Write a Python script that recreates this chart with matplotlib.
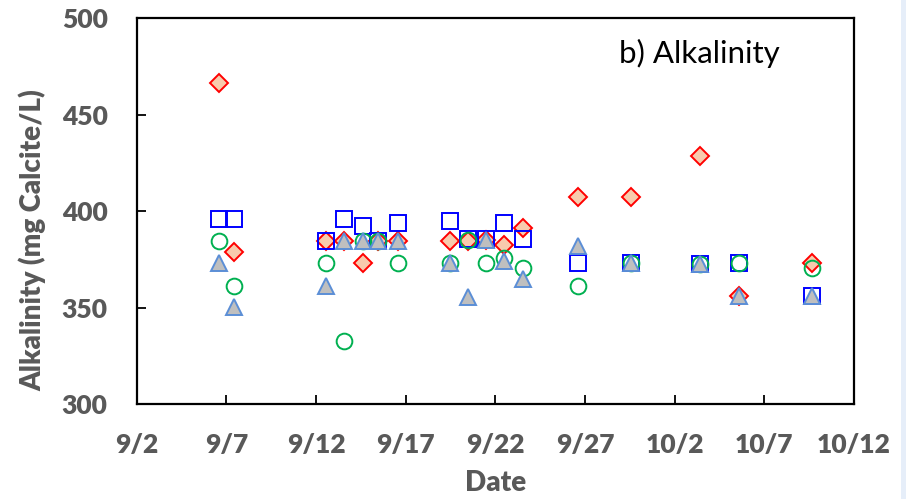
import matplotlib
matplotlib.use("Agg")
import matplotlib.pyplot as plt
import pandas as pd
from matplotlib.patches import Rectangle

plt.rcParams['font.family'] = ['Lato', 'DejaVu Sans']

# sampling times
sample_times = ["2020-09-06 14:00", "2020-09-07 10:30", "2020-09-12 14:00",
                "2020-09-13 14:00", "2020-09-14 14:30", "2020-09-15 10:30",
                "2020-09-16 14:00", "2020-09-19 11:00", "2020-09-20 12:00",
                "2020-09-21 12:00", "2020-09-22 12:00", "2020-09-23 13:00",
                "2020-09-26 14:30", "2020-09-29 13:00", "2020-10-03 09:30",
                "2020-10-05 13:40", "2020-10-09 16:00"]

# alkalinity, mg calcite / L
diamond_vals = [466.2, 378.9, 384.5, 384.5, 373.2, 384.5, 384.5, 384.5, 384.5,
                385.0, 382.5, 391.4, 407.5, 407.5, 428.5, 356.2, 373.0]
square_vals = [396.1, 396.1, 384.5, 396.1, 392.5, 384.5, 393.7, 394.9, 385.4,
               385.4, 393.7, 385.6, 373.0, 373.0, 372.6, 373.2, 356.2]
circle_vals = [384.5, 361.4, 373.2, 332.8, 384.5, 384.5, 373.2, 373.3, 385.0,
               373.2, 375.6, 370.4, 361.4, 373.0, 372.6, 373.2, 370.7]
triangle_vals = [373.0, 350.2, 361.4, 384.5, 384.5, 384.5, 384.5, 373.0, 355.7,
                 385.0, 374.3, 364.7, 382.0, 373.0, 372.6, 356.2, 356.2]

tick_dates = ["2020-09-02", "2020-09-07", "2020-09-12", "2020-09-17", "2020-09-22",
              "2020-09-27", "2020-10-02", "2020-10-07", "2020-10-12"]
tick_labels = ["9/2", "9/7", "9/12", "9/17", "9/22", "9/27", "10/2", "10/7", "10/12"]
y_ticks = [300, 350, 400, 450, 500]

t = pd.to_datetime(sample_times)
ticks = pd.to_datetime(tick_dates)

fig = plt.figure(figsize=(9.06, 4.99), dpi=100)
ax = fig.add_axes([0.1509, 0.1898, 0.7917, 0.7741])

ax.plot(t, diamond_vals, linestyle='none', marker='D', markersize=9.3,
        markerfacecolor='#F8CBAD', markeredgecolor='#FF0000', markeredgewidth=1.4)
ax.plot(t, square_vals, linestyle='none', marker='s', markersize=11,
        markerfacecolor='none', markeredgecolor='#0000FF', markeredgewidth=1.4)
ax.plot(t, circle_vals, linestyle='none', marker='o', markersize=11.3,
        markerfacecolor='none', markeredgecolor='#00B050', markeredgewidth=1.4)
ax.plot(t, triangle_vals, linestyle='none', marker='^', markersize=11,
        markerfacecolor='#BFBFBF', markeredgecolor='#5B8ED6', markeredgewidth=1.4)

ax.set_xlim(ticks[0], ticks[-1])
ax.set_ylim(300, 500)
ax.set_xticks(ticks)
ax.set_xticklabels(tick_labels)
ax.set_yticks(y_ticks)

for s in ax.spines.values():
    s.set_linewidth(1.6)
    s.set_color('black')

ax.tick_params(direction='in', length=6.5, width=1.3, colors='black',
               labelcolor='#595959', labelsize=19, pad=21)
for lab in ax.get_xticklabels() + ax.get_yticklabels():
    lab.set_fontweight('heavy')

ax.set_ylabel("Alkalinity (mg Calcite/L)", fontsize=20, fontweight='heavy',
              color='#595959')
ax.yaxis.set_label_coords(-0.126, 0.425)
ax.set_xlabel("Date", fontsize=20, fontweight='heavy', color='#595959', labelpad=9)

ax.text(0.785, 0.909, "b) Alkalinity", transform=ax.transAxes, fontsize=22.5,
        ha='center', va='center', color='black')

# light strip at the right edge of the screenshot
fig.patches.append(Rectangle((0.9945, 0), 0.0055, 1, transform=fig.transFigure,
                             facecolor='#E6EEF9', edgecolor='none'))

fig.savefig("out.png", dpi=100)
